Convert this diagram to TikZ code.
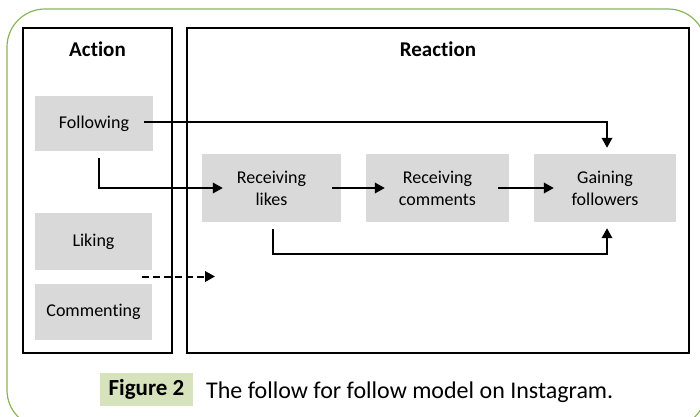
\documentclass[tikz,border=0pt]{standalone}
\usepackage{fontspec}
\setmainfont{Carlito}[Ligatures=NoCommon]
\usepackage{tikz}
\usetikzlibrary{shapes,arrows.meta}
\definecolor{framegreen}{RGB}{136,182,88}
\definecolor{capgreen}{RGB}{215,227,189}
\definecolor{boxgray}{RGB}{217,217,217}

\begin{document}
\begin{tikzpicture}[x=1pt,y=-1pt,>={Triangle[length=10pt,width=10.5pt]},
    panel/.style={draw,line width=1.5pt},
    item/.style={fill=boxgray,align=center,inner sep=0pt,
      font=\fontsize{18}{22}\selectfont},
    title/.style={font=\bfseries\fontsize{21}{25}\selectfont},
    link/.style={->,line width=2pt}]
    \useasboundingbox (0,0) rectangle (700,416);
    \clip (0,0) rectangle (700,416);

    % Draw the frame
    \draw [framegreen,line width=1.2pt,rounded corners=38pt] (7,9) rectangle (706,428);

    % Draw the two panels
    \draw [panel] (23,28) rectangle (172,353);
    \draw [panel] (187,28) rectangle (689,353);
    \node [title] (acttitle) at (97.5,49) {Action};
    \node [title] (reacttitle) at (438,49) {Reaction};

    % Draw the actions
    \node [item,minimum width=118pt,minimum height=55pt] (follow) at (94,123.5) {Following};
    \node [item,minimum width=117pt,minimum height=57pt] (like) at (93.5,241.5) {Liking};
    \node [item,minimum width=117pt,minimum height=56pt] (comment) at (93.5,312) {Commenting};

    % Draw the reactions
    \node [item,minimum width=139pt,minimum height=68pt] (recvlikes) at (271.5,188) {Receiving\\likes};
    \node [item,minimum width=143pt,minimum height=68pt] (recvcomm) at (437.5,188) {Receiving\\comments};
    \node [item,minimum width=142pt,minimum height=68pt] (gain) at (605,188) {Gaining\\followers};
    \coordinate (dashend) at (215,276.5);

    % Draw the links
    \draw [link,shorten >=6pt] ([xshift=-9pt,yshift=1.5pt]follow.east) -| ([xshift=2pt]gain.north);
    \draw [link] ([xshift=5pt,yshift=-7pt]follow.south) |- ([xshift=21pt]recvlikes.west);
    \draw [link] ([xshift=-9pt]recvlikes.east) -- ([xshift=19pt]recvcomm.west);
    \draw [link] ([xshift=-11pt]recvcomm.east) -- ([xshift=20pt]gain.west);
    \draw [link] ([xshift=1.5pt,yshift=-7pt]recvlikes.south)
          -- ([xshift=1.5pt,yshift=-32pt]recvlikes.south)
          -| ([xshift=2pt,yshift=-6pt]gain.south);
    \draw [link,dash pattern=on 7pt off 4pt] ([xshift=-10pt,yshift=-35pt]like.east) -- (dashend);

    % Draw the caption
    \node [fill=capgreen,minimum width=93pt,minimum height=33pt,inner sep=0pt,
           font=\bfseries\fontsize{23}{28}\selectfont] (figlabel) at (146.5,389.5) {Figure 2};
    \node [anchor=base west,inner sep=0pt,font=\fontsize{24}{28}\selectfont] (caption)
          at (206,398) {The follow for follow model on Instagram.};

\end{tikzpicture}
\end{document}
